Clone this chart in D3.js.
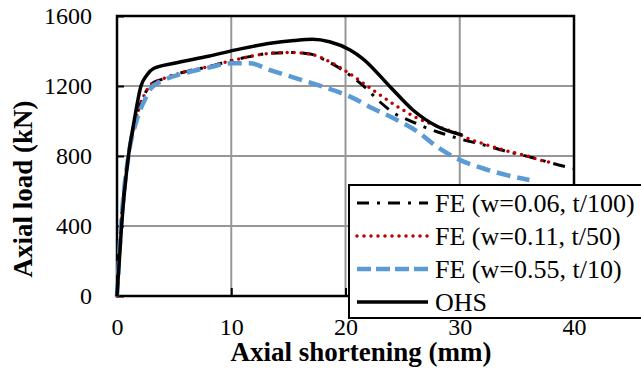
<!DOCTYPE html>
<html><head><meta charset="utf-8">
<script src="https://cdn.jsdelivr.net/npm/d3@7"></script>
<style>body{margin:0;background:#fff}svg{display:block}</style>
</head><body><div id="chart"></div>
<script>
const xTicks = [0, 10, 20, 30, 40];
const yTicks = [0, 400, 800, 1200, 1600];
const seriesNames = ["FE (w=0.06, t/100)", "FE (w=0.11, t/50)", "FE (w=0.55, t/10)", "OHS"];

const fe006X = [0,0.35,1.0,1.6,2.4,3.0,4,6,8,10,11.6,13.4,15.4,16.9,18.3,19.5,21.8,23,24.2,25.8,27.2,28.7,30,32,34,36.4,38,40];
const fe006Y = [0,400,800,1000,1150,1210,1240,1282,1310,1345,1368,1387,1391,1383,1345,1301,1187,1110,1047,997,958,924,898,865,828,790,760,728];

const fe011X = [0,0.35,1.0,1.6,2.4,3.0,4,6,8,10,11.6,13.4,15.4,16.9,18.3,20.1,21.9,23,24.8,26.2,28.3,29.9,30.9,32.2,34.2,35.8,37,38.1];
const fe011Y = [0,400,800,1000,1150,1210,1240,1282,1310,1345,1368,1387,1391,1383,1349,1282,1200,1149,1072,1019,964,926,895,867,828,802,777,762];

const fe055X = [0,0.35,1.0,1.7,2.5,3.0,4,6,8,10,11.6,13.4,15.7,18,20.4,22.4,24.5,26.5,28,30,32,34.1,36.1];
const fe055Y = [0,400,800,1000,1130,1190,1230,1275,1305,1330,1330,1291,1244,1196,1139,1072,1006,930,853,778,730,691,663];

const ohsX = [0,0.4,1.0,1.5,2.1,2.6,3.2,5,8,10.8,13.4,15.5,17.1,18.6,20.4,21.5,23.9,25.9,28,30.2];
const ohsY = [0,400,800,1000,1200,1262,1300,1330,1370,1412,1444,1460,1467,1453,1406,1357,1196,1063,970,920];

const FONT = "'Liberation Serif', 'Times New Roman', Times, 'DejaVu Serif', serif";
const W = 641, H = 371;
const svg = d3.select("#chart").append("svg").attr("width", W).attr("height", H)
  .style("font-family", FONT);
const x = d3.scaleLinear().domain([0, 40]).range([117, 574]);
const y = d3.scaleLinear().domain([0, 1600]).range([296, 16]);

// gridlines
svg.append("g").selectAll("line").data(yTicks.filter(d => d > 0 && d < 1600)).join("line")
  .attr("x1", x(0)).attr("x2", x(40)).attr("y1", d => y(d)).attr("y2", d => y(d))
  .attr("stroke", "#979797").attr("stroke-width", 2);
svg.append("g").selectAll("line").data(xTicks.filter(d => d > 0 && d < 40)).join("line")
  .attr("y1", y(0)).attr("y2", y(1600)).attr("x1", d => x(d)).attr("x2", d => x(d))
  .attr("stroke", "#979797").attr("stroke-width", 2);

// axes with inward ticks
const yAxis = d3.axisLeft(y).tickValues(yTicks).tickSize(-7).tickPadding(25).tickFormat(d3.format("d"));
const xAxis = d3.axisBottom(x).tickValues(xTicks).tickSize(-8).tickPadding(22).tickFormat(d3.format("d"));
const gy = svg.append("g").attr("transform", `translate(${x(0)},0)`).call(yAxis);
const gx = svg.append("g").attr("transform", `translate(0,${y(0)})`).call(xAxis);
[gy, gx].forEach(g => {
  g.attr("font-family", null).attr("font-size", null);
  g.select(".domain").remove();
  g.selectAll(".tick line").attr("stroke", "#000").attr("stroke-width", 2);
  g.selectAll("text").style("font-family", FONT).style("font-size", "24px").attr("fill", "#000");
});
gy.selectAll("text").attr("dy", "0.33em");
gx.selectAll("text").attr("dy", "0.7em");

// frame
svg.append("rect").attr("x", x(0)).attr("y", y(1600)).attr("width", x(40) - x(0)).attr("height", y(0) - y(1600))
  .attr("fill", "none").attr("stroke", "#000").attr("stroke-width", 2.5);

const line = d3.line().x(d => x(d[0])).y(d => y(d[1])).curve(d3.curveMonotoneX);
const zip = (a, b) => a.map((v, i) => [v, b[i]]);

const styles = [
  {color: "#000", width: 3, dash: "12,8,3,8", cap: "butt"},
  {color: "#c00000", width: 3.5, dash: "0,7", cap: "round"},
  {color: "#5b9bd5", width: 4.5, dash: "14,7", cap: "butt"},
  {color: "#000", width: 3.5, dash: null, cap: "butt"}
];
const data = [zip(fe006X, fe006Y), zip(fe011X, fe011Y), zip(fe055X, fe055Y), zip(ohsX, ohsY)];

data.forEach((d, i) => {
  const s = styles[i];
  svg.append("path").datum(d).attr("d", line).attr("fill", "none")
    .attr("stroke", s.color).attr("stroke-width", s.width)
    .attr("stroke-dasharray", s.dash).attr("stroke-linecap", s.cap).attr("stroke-linejoin", "round");
});

// legend
const lg = svg.append("g");
lg.append("rect").attr("x", 349).attr("y", 185).attr("width", 320).attr("height", 133)
  .attr("fill", "#fff").attr("stroke", "#000").attr("stroke-width", 2);
const rowY = [203, 236, 269, 302];
seriesNames.forEach((name, i) => {
  const s = styles[i];
  lg.append("line").attr("x1", 357).attr("x2", 428).attr("y1", rowY[i]).attr("y2", rowY[i])
    .attr("stroke", s.color).attr("stroke-width", s.width)
    .attr("stroke-dasharray", i === 2 ? "14,5" : s.dash).attr("stroke-linecap", s.cap);
  lg.append("text").attr("x", 435).attr("y", rowY[i] + 9).style("font-family", FONT)
    .style("font-size", "26px").text(name);
});

// axis titles
svg.append("text").attr("x", 361).attr("y", 361).attr("text-anchor", "middle")
  .style("font-family", FONT).style("font-size", "27px").style("font-weight", "bold").text("Axial shortening (mm)");
svg.append("text").attr("transform", "translate(32,189) rotate(-90)").attr("text-anchor", "middle")
  .style("font-family", FONT).style("font-size", "27px").style("font-weight", "bold").text("Axial load (kN)");
</script></body></html>
